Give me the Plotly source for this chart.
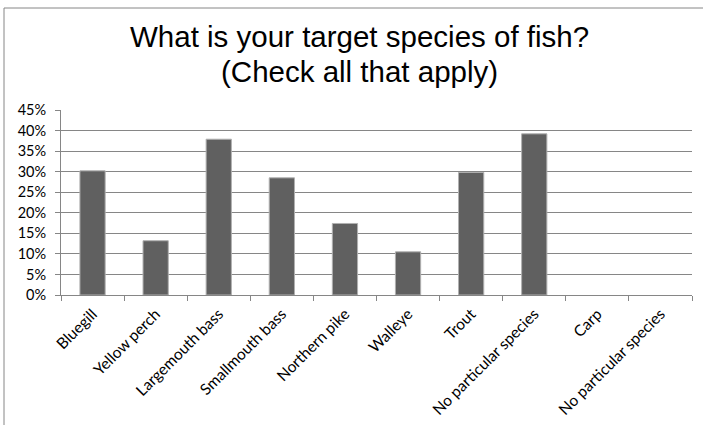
import plotly.graph_objects as go

categories = ["Bluegill", "Yellow perch", "Largemouth bass", "Smallmouth bass",
              "Northern pike", "Walleye", "Trout", "No particular species",
              "Carp", "No particular species"]
values = [0.302, 0.132, 0.379, 0.285, 0.174, 0.105, 0.298, 0.392, 0.0, 0.0]
y_ticks = [0, 0.05, 0.10, 0.15, 0.20, 0.25, 0.30, 0.35, 0.40, 0.45]
y_labels = ["0%", "5%", "10%", "15%", "20%", "25%", "30%", "35%", "40%", "45%"]
title_lines = ["What is your target species of fish?", "(Check all that apply)"]

positions = list(range(len(categories)))

fig = go.Figure(go.Bar(
    x=positions, y=values,
    marker=dict(color="#606060",
                line=dict(color="#b0b0b0", width=[1 if v > 0 else 0 for v in values])),
    width=0.4,
    hoverinfo="skip",
))

L, R, T, B = 61, 11, 110, 130
W, H = 703, 425
pw, ph = W - L - R, H - T - B

annotations = []
for i, (line, baseline) in enumerate(zip(title_lines, [48, 83])):
    annotations.append(dict(
        text=line, xref="paper", yref="paper",
        x=(359.5 - L) / pw, xanchor="center",
        y=(H - B - baseline) / ph, yanchor="bottom", yshift=-7,
        showarrow=False,
        font=dict(family="Liberation Sans, Arial", size=29.5, color="black"),
    ))

fig.update_layout(
    width=W, height=H,
    margin=dict(l=L, r=R, t=T, b=B, autoexpand=False),
    paper_bgcolor="white", plot_bgcolor="white",
    showlegend=False,
    font=dict(family="Lato, Open Sans, sans-serif", size=12, color="black"),
    annotations=annotations,
    xaxis=dict(
        range=[-0.5, len(categories) - 0.5],
        tickmode="array", tickvals=positions, ticktext=categories,
        tickangle=-45, ticks="", showgrid=False, automargin=False,
        ticklabelstandoff=3,
        showline=True, linecolor="#868686", linewidth=1,
        tickfont=dict(family="Lato, Open Sans, sans-serif", size=15.5, color="black"),
        minor=dict(tick0=0.5, dtick=1, ticks="outside", ticklen=5,
                   tickcolor="#868686", showgrid=False),
        zeroline=False,
    ),
    yaxis=dict(
        range=[0, 0.45], tickmode="array", tickvals=y_ticks, ticktext=y_labels,
        showgrid=True, gridcolor="#868686", gridwidth=1, automargin=False,
        showline=True, linecolor="#868686", linewidth=1,
        ticks="outside", ticklen=5, tickcolor="#868686",
        ticklabelstandoff=6,
        tickfont=dict(family="Lato, Open Sans, sans-serif", size=14.5, color="black"),
        zeroline=False,
    ),
    shapes=[dict(type="rect", xref="paper", yref="paper",
                 x0=(4 - L) / pw, x1=(720 - L) / pw,
                 y0=(H - B - 440) / ph, y1=(H - B - 8) / ph,
                 line=dict(color="#868686", width=1), fillcolor="rgba(0,0,0,0)",
                 layer="below")],
)

fig.write_html("out.html", config={"displayModeBar": False},
               post_script="document.body.style.margin='0';document.body.style.overflow='hidden';")
